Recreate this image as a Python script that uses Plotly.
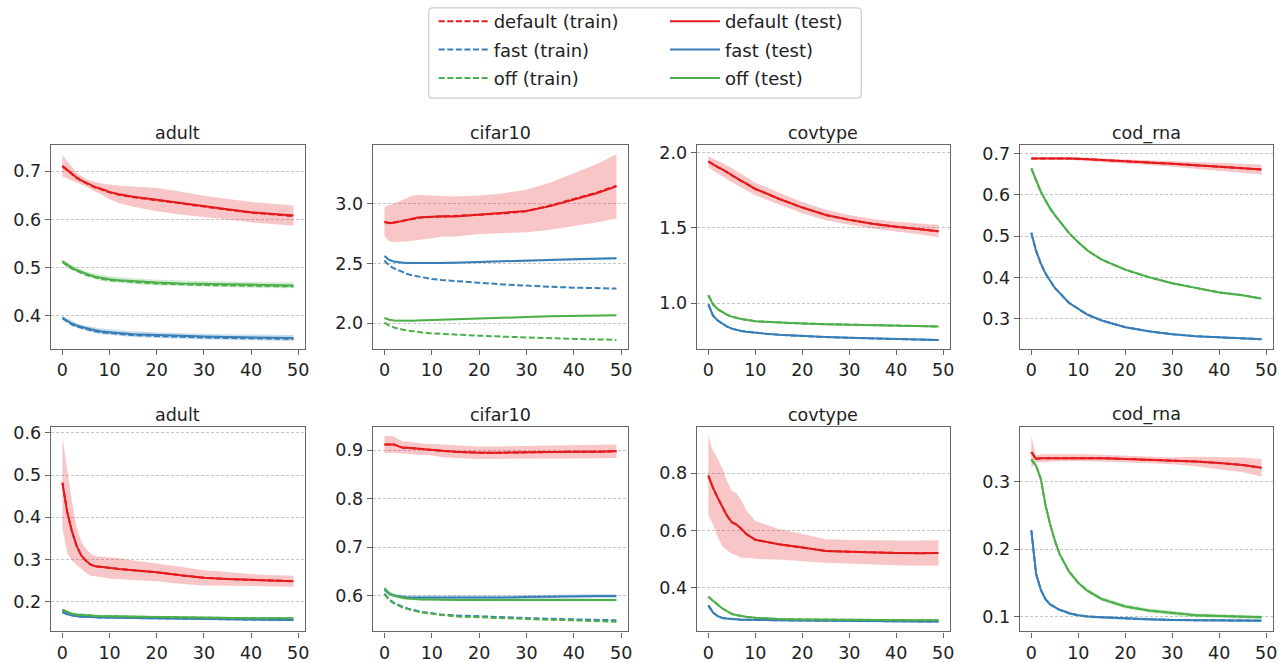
import plotly.graph_objects as go

W, H = 1288, 663

# ---------------- data ----------------
epochs = [0, 1, 2, 3, 4, 5, 6, 7, 8, 10, 12, 15, 20, 25, 30, 35, 40, 45, 49]
datasets = ["adult", "cifar10", "covtype", "cod_rna"]
settings = ["default", "fast", "off"]

# ---- row 1 ----
r1_adult_default_test = [0.711, 0.703, 0.695, 0.687, 0.681, 0.676, 0.671, 0.667, 0.664, 0.657, 0.652, 0.647, 0.641, 0.634, 0.627, 0.621, 0.615, 0.611, 0.608]
r1_adult_default_std = [0.022, 0.019, 0.014, 0.010, 0.009, 0.008, 0.009, 0.010, 0.011, 0.015, 0.018, 0.021, 0.024, 0.024, 0.022, 0.021, 0.021, 0.021, 0.021]
r1_adult_default_train = [0.710, 0.702, 0.694, 0.686, 0.680, 0.675, 0.670, 0.666, 0.663, 0.656, 0.651, 0.646, 0.640, 0.633, 0.626, 0.620, 0.614, 0.610, 0.607]
r1_adult_fast_test = [0.396, 0.390, 0.384, 0.380, 0.377, 0.374, 0.372, 0.370, 0.368, 0.366, 0.364, 0.362, 0.360, 0.358, 0.357, 0.356, 0.355, 0.355, 0.354]
r1_adult_fast_std = [0.004, 0.005, 0.005, 0.005, 0.005, 0.005, 0.006, 0.006, 0.006, 0.006, 0.006, 0.006, 0.006, 0.006, 0.006, 0.006, 0.006, 0.006, 0.006]
r1_adult_fast_train = [0.395, 0.388, 0.382, 0.378, 0.375, 0.372, 0.370, 0.368, 0.366, 0.364, 0.362, 0.360, 0.358, 0.356, 0.355, 0.354, 0.353, 0.353, 0.352]
r1_adult_off_test = [0.513, 0.506, 0.500, 0.495, 0.491, 0.487, 0.484, 0.481, 0.479, 0.476, 0.474, 0.472, 0.469, 0.467, 0.466, 0.465, 0.464, 0.463, 0.463]
r1_adult_off_std = [0.004, 0.005, 0.005, 0.005, 0.005, 0.005, 0.006, 0.006, 0.006, 0.006, 0.006, 0.006, 0.006, 0.006, 0.006, 0.006, 0.006, 0.006, 0.006]
r1_adult_off_train = [0.512, 0.504, 0.498, 0.493, 0.489, 0.485, 0.482, 0.479, 0.477, 0.474, 0.472, 0.470, 0.467, 0.465, 0.464, 0.463, 0.462, 0.461, 0.461]

r1_cifar10_default_test = [2.850, 2.836, 2.840, 2.850, 2.860, 2.870, 2.878, 2.885, 2.886, 2.890, 2.895, 2.893, 2.907, 2.920, 2.940, 2.980, 3.035, 3.090, 3.145]
r1_cifar10_default_std = [0.122, 0.150, 0.160, 0.168, 0.176, 0.184, 0.190, 0.188, 0.185, 0.178, 0.172, 0.168, 0.161, 0.166, 0.178, 0.198, 0.219, 0.245, 0.269]
r1_cifar10_default_train = [2.845, 2.840, 2.845, 2.852, 2.862, 2.870, 2.878, 2.883, 2.886, 2.889, 2.893, 2.895, 2.905, 2.918, 2.938, 2.985, 3.040, 3.095, 3.150]
r1_cifar10_fast_test = [2.563, 2.530, 2.516, 2.508, 2.506, 2.505, 2.504, 2.504, 2.504, 2.503, 2.504, 2.507, 2.514, 2.519, 2.525, 2.530, 2.535, 2.540, 2.544]
r1_cifar10_fast_std = [0.010, 0.010, 0.010, 0.010, 0.010, 0.010, 0.010, 0.010, 0.010, 0.010, 0.010, 0.010, 0.010, 0.010, 0.010, 0.010, 0.010, 0.010, 0.010]
r1_cifar10_fast_train = [2.525, 2.482, 2.460, 2.442, 2.428, 2.410, 2.400, 2.392, 2.385, 2.370, 2.362, 2.352, 2.339, 2.325, 2.313, 2.305, 2.298, 2.294, 2.290]
r1_cifar10_off_test = [2.044, 2.030, 2.024, 2.022, 2.022, 2.022, 2.022, 2.023, 2.024, 2.027, 2.030, 2.034, 2.041, 2.046, 2.052, 2.058, 2.063, 2.065, 2.066]
r1_cifar10_off_std = [0.008, 0.008, 0.008, 0.008, 0.008, 0.008, 0.008, 0.008, 0.008, 0.008, 0.008, 0.008, 0.008, 0.008, 0.008, 0.008, 0.008, 0.008, 0.008]
r1_cifar10_off_train = [2.005, 1.980, 1.965, 1.952, 1.945, 1.938, 1.932, 1.927, 1.923, 1.915, 1.910, 1.905, 1.896, 1.888, 1.880, 1.874, 1.869, 1.865, 1.861]

r1_covtype_default_test = [1.944, 1.922, 1.905, 1.890, 1.870, 1.850, 1.832, 1.814, 1.797, 1.760, 1.735, 1.695, 1.636, 1.587, 1.554, 1.528, 1.509, 1.494, 1.478]
r1_covtype_default_std = [0.038, 0.040, 0.043, 0.045, 0.047, 0.048, 0.047, 0.046, 0.045, 0.042, 0.041, 0.040, 0.038, 0.035, 0.032, 0.032, 0.032, 0.036, 0.042]
r1_covtype_default_train = r1_covtype_default_test
r1_covtype_fast_test = [0.991, 0.916, 0.883, 0.861, 0.843, 0.829, 0.820, 0.814, 0.809, 0.801, 0.796, 0.788, 0.779, 0.773, 0.768, 0.764, 0.760, 0.756, 0.753]
r1_covtype_fast_std = [0.004, 0.004, 0.004, 0.004, 0.004, 0.004, 0.004, 0.004, 0.004, 0.004, 0.004, 0.004, 0.004, 0.004, 0.004, 0.004, 0.004, 0.004, 0.004]
r1_covtype_fast_train = r1_covtype_fast_test
r1_covtype_off_test = [1.052, 0.991, 0.959, 0.937, 0.921, 0.909, 0.900, 0.894, 0.889, 0.879, 0.875, 0.870, 0.864, 0.859, 0.855, 0.851, 0.848, 0.846, 0.844]
r1_covtype_off_std = [0.004, 0.004, 0.004, 0.004, 0.004, 0.004, 0.004, 0.004, 0.004, 0.004, 0.004, 0.004, 0.004, 0.004, 0.004, 0.004, 0.004, 0.004, 0.004]
r1_covtype_off_train = r1_covtype_off_test

r1_cod_rna_default_test = [0.688, 0.688, 0.689, 0.689, 0.689, 0.689, 0.689, 0.688, 0.688, 0.687, 0.686, 0.684, 0.681, 0.678, 0.675, 0.672, 0.668, 0.664, 0.661]
r1_cod_rna_default_std = [0.002, 0.002, 0.002, 0.002, 0.002, 0.002, 0.002, 0.003, 0.003, 0.003, 0.004, 0.004, 0.005, 0.006, 0.007, 0.008, 0.010, 0.011, 0.012]
r1_cod_rna_default_train = r1_cod_rna_default_test
r1_cod_rna_fast_test = [0.508, 0.465, 0.434, 0.410, 0.392, 0.375, 0.363, 0.350, 0.339, 0.324, 0.310, 0.296, 0.280, 0.270, 0.263, 0.258, 0.255, 0.253, 0.251]
r1_cod_rna_fast_std = [0.002, 0.002, 0.002, 0.002, 0.002, 0.002, 0.002, 0.002, 0.002, 0.002, 0.002, 0.002, 0.002, 0.002, 0.002, 0.002, 0.002, 0.002, 0.002]
r1_cod_rna_fast_train = r1_cod_rna_fast_test
r1_cod_rna_off_test = [0.664, 0.634, 0.608, 0.587, 0.567, 0.551, 0.536, 0.521, 0.508, 0.485, 0.465, 0.443, 0.419, 0.401, 0.386, 0.375, 0.364, 0.357, 0.349]
r1_cod_rna_off_std = [0.002, 0.002, 0.002, 0.002, 0.002, 0.002, 0.002, 0.002, 0.002, 0.002, 0.002, 0.002, 0.002, 0.002, 0.002, 0.002, 0.002, 0.002, 0.002]
r1_cod_rna_off_train = r1_cod_rna_off_test

# ---- row 2 ----
r2_adult_default_test = [0.482, 0.414, 0.368, 0.333, 0.310, 0.297, 0.288, 0.284, 0.283, 0.280, 0.278, 0.275, 0.270, 0.263, 0.257, 0.254, 0.252, 0.250, 0.249]
r2_adult_default_std = [0.108, 0.097, 0.070, 0.046, 0.033, 0.028, 0.026, 0.024, 0.024, 0.025, 0.025, 0.023, 0.021, 0.020, 0.018, 0.016, 0.014, 0.013, 0.013]
r2_adult_default_train = r2_adult_default_test
r2_adult_fast_test = [0.176, 0.171, 0.168, 0.166, 0.165, 0.165, 0.164, 0.164, 0.163, 0.163, 0.162, 0.162, 0.161, 0.160, 0.159, 0.158, 0.158, 0.157, 0.157]
r2_adult_fast_std = [0.003, 0.003, 0.003, 0.003, 0.003, 0.003, 0.003, 0.003, 0.003, 0.003, 0.003, 0.003, 0.003, 0.003, 0.003, 0.003, 0.003, 0.003, 0.003]
r2_adult_fast_train = r2_adult_fast_test
r2_adult_off_test = [0.181, 0.176, 0.172, 0.170, 0.169, 0.168, 0.167, 0.167, 0.166, 0.166, 0.165, 0.165, 0.164, 0.163, 0.162, 0.162, 0.161, 0.161, 0.161]
r2_adult_off_std = [0.003, 0.003, 0.003, 0.003, 0.003, 0.003, 0.003, 0.003, 0.003, 0.003, 0.003, 0.003, 0.003, 0.003, 0.003, 0.003, 0.003, 0.003, 0.003]
r2_adult_off_train = r2_adult_off_test

r2_cifar10_default_test = [0.912, 0.912, 0.912, 0.908, 0.905, 0.905, 0.904, 0.903, 0.902, 0.901, 0.899, 0.897, 0.895, 0.895, 0.896, 0.896, 0.897, 0.897, 0.898]
r2_cifar10_default_std = [0.018, 0.018, 0.017, 0.014, 0.013, 0.013, 0.012, 0.012, 0.012, 0.012, 0.013, 0.013, 0.013, 0.013, 0.013, 0.013, 0.014, 0.014, 0.014]
r2_cifar10_default_train = r2_cifar10_default_test
r2_cifar10_fast_test = [0.612, 0.604, 0.600, 0.598, 0.597, 0.596, 0.596, 0.595, 0.595, 0.595, 0.595, 0.595, 0.596, 0.596, 0.597, 0.598, 0.598, 0.599, 0.599]
r2_cifar10_fast_std = [0.004, 0.004, 0.004, 0.004, 0.004, 0.004, 0.004, 0.004, 0.004, 0.004, 0.004, 0.004, 0.004, 0.004, 0.004, 0.004, 0.004, 0.004, 0.004]
r2_cifar10_fast_train = [0.604, 0.592, 0.585, 0.580, 0.576, 0.573, 0.570, 0.568, 0.566, 0.563, 0.561, 0.559, 0.557, 0.555, 0.553, 0.552, 0.551, 0.550, 0.549]
r2_cifar10_off_test = [0.615, 0.605, 0.600, 0.597, 0.595, 0.594, 0.593, 0.593, 0.592, 0.592, 0.591, 0.591, 0.591, 0.591, 0.592, 0.592, 0.591, 0.591, 0.591]
r2_cifar10_off_std = [0.003, 0.003, 0.003, 0.003, 0.003, 0.003, 0.003, 0.003, 0.003, 0.003, 0.003, 0.003, 0.003, 0.003, 0.003, 0.003, 0.003, 0.003, 0.003]
r2_cifar10_off_train = [0.603, 0.591, 0.584, 0.579, 0.575, 0.572, 0.569, 0.567, 0.565, 0.562, 0.560, 0.557, 0.555, 0.553, 0.551, 0.550, 0.549, 0.547, 0.546]

r2_covtype_default_test = [0.792, 0.749, 0.714, 0.680, 0.651, 0.629, 0.621, 0.606, 0.589, 0.568, 0.561, 0.552, 0.541, 0.529, 0.526, 0.523, 0.522, 0.521, 0.522]
r2_covtype_default_std = [0.138, 0.129, 0.137, 0.136, 0.120, 0.110, 0.108, 0.101, 0.084, 0.065, 0.061, 0.053, 0.047, 0.041, 0.041, 0.042, 0.043, 0.044, 0.044]
r2_covtype_default_train = r2_covtype_default_test
r2_covtype_fast_test = [0.339, 0.314, 0.301, 0.295, 0.293, 0.291, 0.290, 0.289, 0.289, 0.288, 0.287, 0.287, 0.286, 0.285, 0.285, 0.284, 0.284, 0.283, 0.283]
r2_covtype_fast_std = [0.002, 0.002, 0.002, 0.002, 0.002, 0.002, 0.002, 0.002, 0.002, 0.002, 0.002, 0.002, 0.002, 0.002, 0.002, 0.002, 0.002, 0.002, 0.002]
r2_covtype_fast_train = r2_covtype_fast_test
r2_covtype_off_test = [0.369, 0.354, 0.341, 0.328, 0.317, 0.309, 0.305, 0.301, 0.299, 0.296, 0.294, 0.291, 0.290, 0.289, 0.288, 0.288, 0.287, 0.287, 0.287]
r2_covtype_off_std = [0.002, 0.002, 0.002, 0.002, 0.002, 0.002, 0.002, 0.002, 0.002, 0.002, 0.002, 0.002, 0.002, 0.002, 0.002, 0.002, 0.002, 0.002, 0.002]
r2_covtype_off_train = r2_covtype_off_test

r2_cod_rna_default_test = [0.344, 0.334, 0.335, 0.335, 0.336, 0.336, 0.336, 0.336, 0.336, 0.336, 0.336, 0.335, 0.334, 0.333, 0.331, 0.330, 0.328, 0.325, 0.321]
r2_cod_rna_default_std = [0.024, 0.005, 0.006, 0.006, 0.006, 0.006, 0.006, 0.005, 0.005, 0.005, 0.005, 0.005, 0.005, 0.005, 0.005, 0.007, 0.009, 0.011, 0.013]
r2_cod_rna_default_train = r2_cod_rna_default_test
r2_cod_rna_fast_test = [0.228, 0.164, 0.140, 0.126, 0.118, 0.114, 0.110, 0.108, 0.105, 0.102, 0.100, 0.099, 0.097, 0.096, 0.095, 0.095, 0.094, 0.094, 0.094]
r2_cod_rna_fast_std = [0.007, 0.002, 0.002, 0.002, 0.002, 0.002, 0.002, 0.002, 0.002, 0.002, 0.002, 0.002, 0.002, 0.002, 0.002, 0.002, 0.002, 0.002, 0.002]
r2_cod_rna_fast_train = r2_cod_rna_fast_test
r2_cod_rna_off_test = [0.333, 0.324, 0.305, 0.266, 0.237, 0.213, 0.193, 0.179, 0.167, 0.150, 0.138, 0.126, 0.115, 0.109, 0.105, 0.102, 0.101, 0.100, 0.099]
r2_cod_rna_off_std = [0.003, 0.003, 0.003, 0.003, 0.003, 0.003, 0.003, 0.003, 0.003, 0.003, 0.003, 0.003, 0.003, 0.003, 0.003, 0.003, 0.003, 0.003, 0.003]
r2_cod_rna_off_train = r2_cod_rna_off_test

# axis tick values per panel (row-major)
yticks_r1 = [[0.4, 0.5, 0.6, 0.7], [2.0, 2.5, 3.0], [1.0, 1.5, 2.0], [0.3, 0.4, 0.5, 0.6, 0.7]]
yticks_r2 = [[0.2, 0.3, 0.4, 0.5, 0.6], [0.6, 0.7, 0.8, 0.9], [0.4, 0.6, 0.8], [0.1, 0.2, 0.3]]
xticks = [0, 10, 20, 30, 40, 50]

# ---------------- styling / layout ----------------
COLORS = {"default": "#e41a1c", "fast": "#377eb8", "off": "#4daf4a"}
FILLS = {"default": "rgba(228,26,28,0.25)", "fast": "rgba(55,126,184,0.25)", "off": "rgba(77,175,74,0.25)"}
FONT = "DejaVu Sans"
FS = 17.5

yranges_r1 = [[0.331, 0.754], [1.784, 3.49], [0.693, 2.052], [0.227, 0.72]]
yranges_r2 = [[0.130, 0.615], [0.526, 0.949], [0.248, 0.963], [0.078, 0.382]]

col_px = [(51, 306), (374, 630), (699, 953), (1023, 1277)]
row_px = [(145, 353), (432, 641)]

g = globals()
fig = go.Figure()
layout_axes = {}
annotations = []

panel = 0
for r, (ytk_row, yr_row) in enumerate([(yticks_r1, yranges_r1), (yticks_r2, yranges_r2)]):
    for c, ds in enumerate(datasets):
        panel += 1
        xa = "x" if panel == 1 else f"x{panel}"
        ya = "y" if panel == 1 else f"y{panel}"
        prefix = f"r{r+1}_{ds}"
        # bands
        for s in settings:
            m = g[f"{prefix}_{s}_test"]
            sd = g[f"{prefix}_{s}_std"]
            hi = [a + b for a, b in zip(m, sd)]
            lo = [a - b for a, b in zip(m, sd)]
            fig.add_trace(go.Scatter(
                x=epochs + epochs[::-1], y=hi + lo[::-1], fill="toself",
                fillcolor=FILLS[s], line=dict(width=0), mode="lines",
                hoverinfo="skip", showlegend=False, xaxis=xa, yaxis=ya))
        # train (dashed)
        for s in settings:
            fig.add_trace(go.Scatter(
                x=epochs, y=g[f"{prefix}_{s}_train"], mode="lines",
                line=dict(color=COLORS[s], width=2, dash="6px,2.6px"),
                name=f"{s} (train)", legend="legend",
                showlegend=(panel == 1), xaxis=xa, yaxis=ya))
        # test (solid)
        for s in settings:
            fig.add_trace(go.Scatter(
                x=epochs, y=g[f"{prefix}_{s}_test"], mode="lines",
                line=dict(color=COLORS[s], width=2),
                name=f"{s} (test)", legend="legend2",
                showlegend=(panel == 1), xaxis=xa, yaxis=ya))

        x0, x1 = col_px[c]
        yt, yb = row_px[r]
        common = dict(showline=True, mirror=True, linecolor="#666666", linewidth=1.25,
                      ticks="outside", ticklen=5, tickwidth=1.25, tickcolor="#666666",
                      tickfont=dict(family=FONT, size=FS, color="#222222"),
                      zeroline=False)
        layout_axes["xaxis" if panel == 1 else f"xaxis{panel}"] = dict(
            domain=[x0 / W, x1 / W], anchor=ya, range=[-2.45, 51.45],
            tickvals=xticks, showgrid=False, **common)
        layout_axes["yaxis" if panel == 1 else f"yaxis{panel}"] = dict(
            domain=[1 - yb / H, 1 - yt / H], anchor=xa, range=yr_row[c],
            tickvals=ytk_row[c], tickformat=".1f", showgrid=True,
            gridcolor="#c4c4c4", gridwidth=1, griddash="3px,2px", **common)
        annotations.append(dict(
            text=ds, x=(x0 + x1) / 2 / W, y=1 - (yt - 12) / H, xref="paper", yref="paper",
            xanchor="center", yanchor="middle", showarrow=False,
            font=dict(family=FONT, size=FS, color="#222222")))

# legend frame (rounded rectangle in paper coords)
lx0, lx1, ly0, ly1, rad = 430, 864, 5, 97, 4
def px(x):
    return x / W
def py(y):
    return 1 - y / H
path = (f"M{px(lx0+rad)},{py(ly0)} L{px(lx1-rad)},{py(ly0)} Q{px(lx1)},{py(ly0)} {px(lx1)},{py(ly0+rad)} "
        f"L{px(lx1)},{py(ly1-rad)} Q{px(lx1)},{py(ly1)} {px(lx1-rad)},{py(ly1)} "
        f"L{px(lx0+rad)},{py(ly1)} Q{px(lx0)},{py(ly1)} {px(lx0)},{py(ly1-rad)} "
        f"L{px(lx0)},{py(ly0+rad)} Q{px(lx0)},{py(ly0)} {px(lx0+rad)},{py(ly0)} Z")

legend_common = dict(orientation="v", xanchor="left", yanchor="top", bgcolor="rgba(0,0,0,0)",
                     borderwidth=0, font=dict(family=FONT, size=18, color="#222222"),
                     tracegroupgap=2, itemwidth=50)

fig.update_layout(
    width=W, height=H, margin=dict(l=0, r=0, t=0, b=0),
    paper_bgcolor="white", plot_bgcolor="white",
    font=dict(family=FONT, size=FS, color="#222222"),
    annotations=annotations,
    shapes=[dict(type="path", path=path, xref="paper", yref="paper",
                 line=dict(color="#cccccc", width=1.2), fillcolor="rgba(255,255,255,0.8)", layer="below")],
    legend=dict(x=435 / W, y=1.0, **legend_common),
    legend2=dict(x=667 / W, y=1.0, **legend_common),
    **layout_axes,
)
for t in fig.data:
    if t.showlegend:
        t.legendgroup = t.name

fig.write_html("out.html", config={"displayModeBar": False},
               post_script="document.body.style.margin='0px';document.body.style.overflow='hidden';")
